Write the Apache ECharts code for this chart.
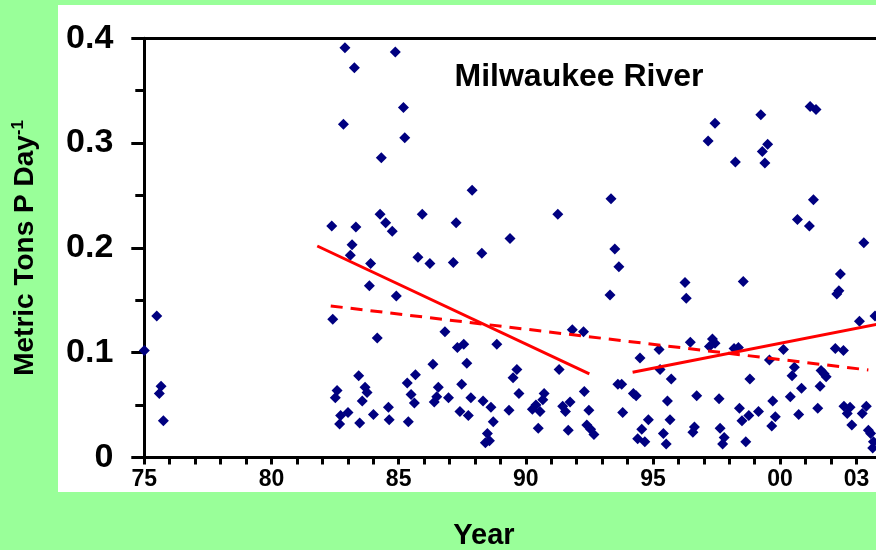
<!DOCTYPE html>
<html>
<head>
<meta charset="utf-8">
<script src="https://cdn.jsdelivr.net/npm/echarts/dist/echarts.min.js"></script>
<style>
html,body{margin:0;padding:0;background:#99ff99;}
#chart{width:876px;height:550px;}
</style>
</head>
<body>
<div id="chart"></div>
<script>
// Sample years (decimal) and loads (metric tons P / day)
const sampleYears = [
1975.00,1975.49,1975.59,1975.66,1975.75,
1982.37,1982.41,1982.51,1982.58,1982.68,1982.72,1982.83,1982.89,1983.01,1983.10,1983.17,1983.26,1983.32,1983.43,1983.47,1983.57,1983.68,1983.76,1983.85,1983.90,
1984.01,1984.16,1984.27,1984.32,1984.49,1984.60,1984.63,1984.75,1984.87,1984.91,1985.19,1985.24,1985.34,1985.38,1985.49,1985.62,1985.66,1985.76,1985.93,
1986.23,1986.35,1986.40,1986.50,1986.56,1986.82,1986.96,1987.15,1987.26,1987.31,1987.41,1987.48,1987.56,1987.68,1987.74,1987.84,1987.89,
1988.27,1988.32,1988.41,1988.49,1988.57,1988.63,1988.72,1988.86,1989.34,1989.38,1989.50,1989.65,1989.73,
1990.26,1990.40,1990.49,1990.56,1990.67,1990.72,1991.26,1991.31,1991.45,1991.56,1991.67,1991.74,1991.83,
1992.27,1992.30,1992.40,1992.48,1992.55,1992.68,1993.31,1993.35,1993.50,1993.62,1993.66,1993.77,1993.81,
1994.23,1994.34,1994.40,1994.49,1994.56,1994.68,1994.82,1995.24,1995.28,1995.41,1995.52,1995.57,1995.67,1995.72,
1996.26,1996.31,1996.47,1996.57,1996.63,1996.72,1997.17,1997.22,1997.34,1997.44,1997.44,1997.60,1997.64,1997.74,1997.80,
1998.19,1998.24,1998.36,1998.40,1998.50,1998.55,1998.65,1998.77,1998.81,1999.15,1999.24,1999.30,1999.40,1999.51,1999.58,1999.67,1999.71,1999.81,
2000.13,2000.40,2000.47,2000.56,2000.68,2000.73,2000.84,2001.15,2001.18,2001.31,2001.41,2001.48,2001.57,2001.61,2001.73,2001.81,
2002.17,2002.23,2002.31,2002.37,2002.49,2002.51,2002.64,2002.75,2002.82,2003.12,2003.23,2003.29,2003.39,2003.47,2003.56,2003.64,2003.67,2003.73
];
const sampleLoads = [
.102,.135,.061,.068,.035,
.221,.132,.057,.064,.032,.040,.318,.391,.043,.193,.203,.372,.220,.078,.033,.054,.067,.062,.164,.185,
.041,.114,.232,.286,.224,.048,.036,.216,.387,.154,.334,.305,.071,.034,.060,.052,.079,.191,.232,
.185,.089,.053,.058,.067,.120,.057,.186,.224,.105,.044,.070,.108,.090,.040,.057,.255,
.195,.054,.014,.023,.016,.048,.034,.108,.045,.209,.076,.084,.061,
.046,.050,.028,.044,.055,.061,.232,.084,.049,.044,.026,.053,.122,
.120,.063,.031,.045,.027,.022,.155,.247,.199,.070,.182,.070,.043,
.061,.059,.018,.095,.027,.015,.036,.103,.084,.023,.013,.054,.036,.075,
.167,.152,.110,.024,.029,.059,.302,.106,.113,.109,.319,.056,.028,.013,.019,
.104,.282,.105,.047,.035,.168,.015,.040,.075,.044,.327,.292,.281,.299,.093,.030,.054,.039,
.103,.058,.078,.086,.227,.041,.066,.221,.335,.246,.332,.047,.068,.083,.080,.077,
.104,.156,.159,.175,.102,.049,.042,.048,.031,.130,.042,.205,.049,.026,.023,.009,.015,.135
];
// Trend lines: [year, load] endpoints
const trendEarlyYears = [1981.80, 1992.50];
const trendEarlyLoads = [0.2018, 0.0797];
const trendAllYears = [1982.33, 2003.47];
const trendAllLoads = [0.1446, 0.0835];
const trendLateYears = [1994.20, 2004.00];
const trendLateLoads = [0.0813, 0.128];
// Axis range (right end is where the picture is cropped) and ticks
const xMin = 1975, xMax = 2003.77;
const xTickYears = [1975, 1980, 1985, 1990, 1995, 2000, 2003];
const xTickLabels = ['75', '80', '85', '90', '95', '00', '03'];
const xMinorTickYears = [1975,1976,1977,1978,1979,1980,1981,1982,1983,1984,1985,1986,1987,1988,1989,
  1990,1991,1992,1993,1994,1995,1996,1997,1998,1999,2000,2001,2002,2003];
const yTickValues = [0, 0.1, 0.2, 0.3, 0.4];
const yTickLabels = ['0', '0.1', '0.2', '0.3', '0.4'];

const FONT = "'Liberation Sans', Arial, Helvetica, sans-serif";
const pts = sampleYears.map((y, i) => [y, sampleLoads[i]]);
const pair = (xs, ys) => xs.map((x, i) => [x, ys[i]]);

const chart = echarts.init(document.getElementById('chart'), null, {renderer: 'canvas'});
chart.setOption({
  animation: false,
  backgroundColor: '#99ff99',
  graphic: [
    {type: 'rect', z: -10, shape: {x: 58, y: 5, width: 830, height: 487}, style: {fill: '#ffffff'}, silent: true},
    {type: 'text', x: 579, y: 77, style: {text: 'Milwaukee River', font: 'bold 32px ' + FONT, fill: '#000', align: 'center', verticalAlign: 'middle'}},
    {type: 'text', x: 484, y: 536, style: {text: 'Year', font: 'bold 29px ' + FONT, fill: '#000', align: 'center', verticalAlign: 'middle'}}
  ],
  grid: {left: 144.3, top: 38.3, right: 0, bottom: 92.5, containLabel: false},
  xAxis: [{
    type: 'value', min: xMin, max: xMax, interval: 1,
    axisLine: {show: true, onZero: false, lineStyle: {color: '#000', width: 3}},
    axisTick: {show: true, length: 7, customValues: xMinorTickYears, lineStyle: {color: '#000', width: 3}},
    splitLine: {show: false},
    axisLabel: {
      margin: 11, color: '#000', fontSize: 23, fontWeight: 'bold', fontFamily: FONT,
      customValues: xTickYears,
      formatter: v => { const k = xTickYears.indexOf(Math.round(v)); return k >= 0 ? xTickLabels[k] : ''; }
    }
  }, {
    type: 'value', min: xMin, max: xMax, position: 'top',
    axisLine: {show: true, onZero: false, lineStyle: {color: '#000', width: 3}},
    axisTick: {show: false}, axisLabel: {show: false}, splitLine: {show: false}
  }],
  yAxis: {
    type: 'value', min: 0, max: 0.4, interval: 0.1,
    name: '{a|Metric Tons P Day}{s|-1}',
    nameLocation: 'middle', nameRotate: 90, nameGap: 105,
    nameTextStyle: {
      rich: {
        a: {fontSize: 28, fontWeight: 'bold', fontFamily: FONT, color: '#000'},
        s: {fontSize: 17, fontWeight: 'bold', fontFamily: FONT, color: '#000', verticalAlign: 'top', padding: [0,0,12,0]}
      }
    },
    axisLine: {show: true, lineStyle: {color: '#000', width: 3}},
    axisTick: {show: true, length: 13, lineStyle: {color: '#000', width: 3}},
    minorTick: {show: true, splitNumber: 2, length: 9, lineStyle: {color: '#000', width: 3}},
    splitLine: {show: false},
    axisLabel: {
      margin: 31, color: '#000', fontSize: 34, fontWeight: 'bold', fontFamily: FONT,
      formatter: v => { const k = yTickValues.findIndex(t => Math.abs(t - v) < 1e-9); return k >= 0 ? yTickLabels[k] : ''; }
    }
  },
  series: [
    {type: 'scatter', data: pts, symbol: 'diamond', symbolSize: 11, itemStyle: {color: '#000080', opacity: 1}, z: 3},
    {type: 'line', data: pair(trendEarlyYears, trendEarlyLoads), symbol: 'none', lineStyle: {color: '#ff0000', width: 3}, z: 4},
    {type: 'line', data: pair(trendAllYears, trendAllLoads), symbol: 'none', lineStyle: {color: '#ff0000', width: 3, type: [12, 8]}, z: 4},
    {type: 'line', data: pair(trendLateYears, trendLateLoads), symbol: 'none', lineStyle: {color: '#ff0000', width: 3}, z: 4}
  ]
});
</script>
</body>
</html>
